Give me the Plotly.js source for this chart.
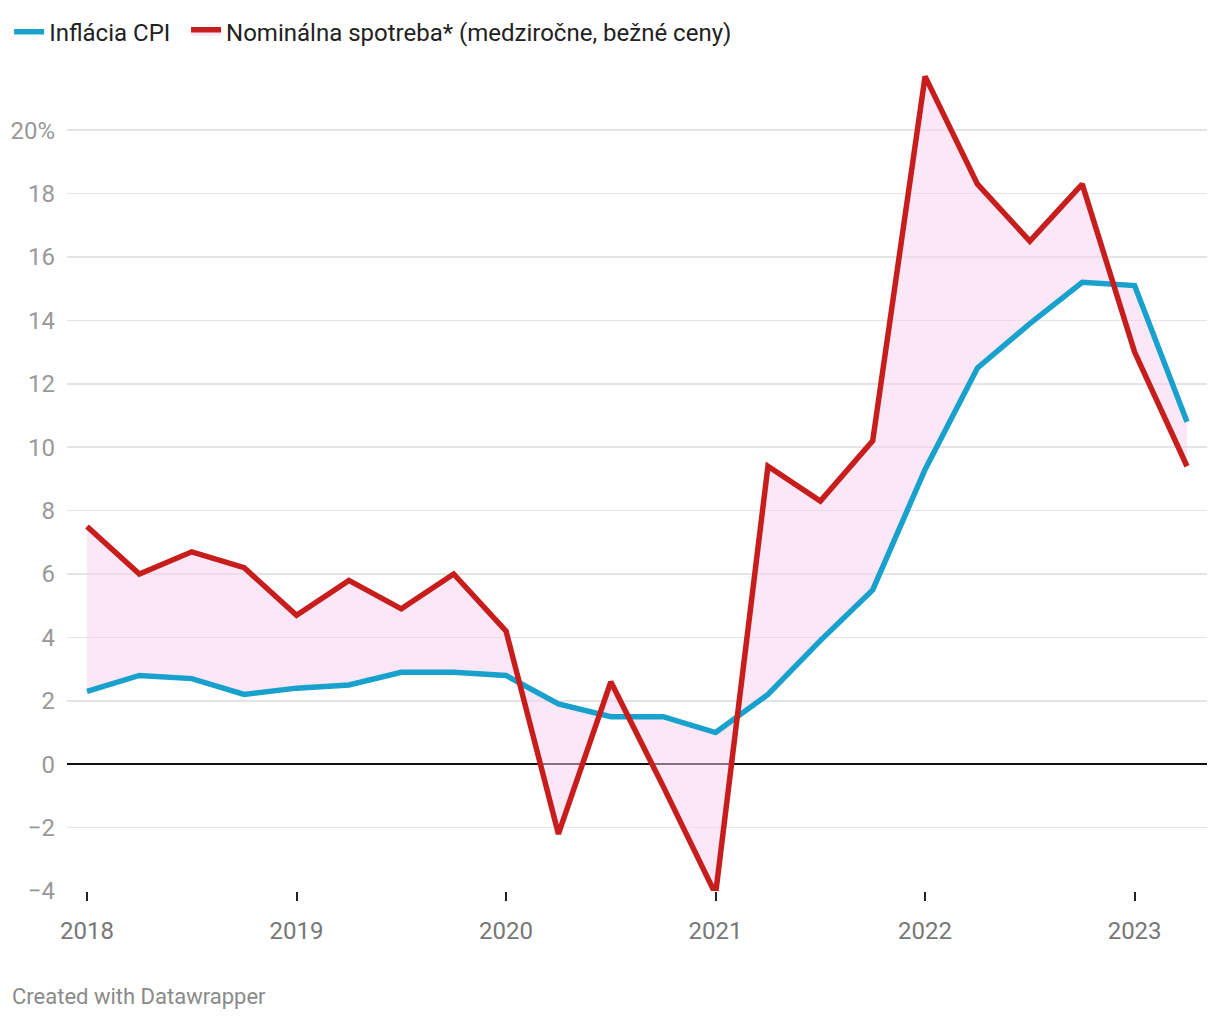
<!DOCTYPE html>
<html>
<head>
<meta charset="utf-8">
<script src="https://cdn.plot.ly/plotly-3.0.1.min.js"></script>
<style>
html,body{margin:0;padding:0;background:#fff;}
#chart{width:1220px;height:1020px;}
</style>
</head>
<body>
<div id="chart"></div>
<script>
const quarters = [2018.0,2018.25,2018.5,2018.75,2019.0,2019.25,2019.5,2019.75,2020.0,2020.25,2020.5,2020.75,2021.0,2021.25,2021.5,2021.75,2022.0,2022.25,2022.5,2022.75,2023.0,2023.25];
const cpi = [2.3,2.8,2.7,2.2,2.4,2.5,2.9,2.9,2.8,1.9,1.5,1.5,1.0,2.2,3.9,5.5,9.3,12.5,13.9,15.2,15.1,10.8];
const consumption = [7.5,6.0,6.7,6.2,4.7,5.8,4.9,6.0,4.2,-2.2,2.6,-0.7,-4.1,9.4,8.3,10.2,21.7,18.3,16.5,18.3,13.0,9.4];
const seriesNames = ["Inflácia CPI","Nominálna spotreba* (medziročne, bežné ceny)"];
const yTickVals = [-4,-2,0,2,4,6,8,10,12,14,16,18,20];
const yTickText = ["−4","−2","0","2","4","6","8","10","12","14","16","18","20%"];
const xTickVals = [2018,2019,2020,2021,2022,2023];
const xTickText = ["2018","2019","2020","2021","2022","2023"];

const traces = [
  {x: quarters, y: cpi, name: seriesNames[0], type:'scatter', mode:'lines', legend:'legend',
   line:{color:'#18a1cd', width:5.5}},
  {x: quarters, y: consumption, name: seriesNames[1], type:'scatter', mode:'lines', legend:'legend2',
   line:{color:'#c71e1d', width:5.5}, fill:'tonexty', fillcolor:'rgba(248,208,238,0.5)'}
];

const legendBase = {orientation:'h', xref:'container', y:0.9686, yref:'container', yanchor:'middle',
  font:{size:24, color:'#222'}, itemwidth:30, bgcolor:'rgba(0,0,0,0)'};

const layout = {
  width:1220, height:1020,
  paper_bgcolor:'#fff', plot_bgcolor:'#fff',
  font:{family:'Roboto, sans-serif', color:'#333'},
  margin:{l:67, r:13, t:70, b:129},
  showlegend:true,
  legend:Object.assign({}, legendBase, {x:0.0075}),
  legend2:Object.assign({}, legendBase, {x:0.1525}),
  xaxis:{range:[2017.9045,2023.3455], tickvals:xTickVals, ticktext:xTickText,
    showgrid:false, zeroline:false, showline:false,
    ticks:'outside', ticklen:9, tickwidth:2, tickcolor:'#222', ticklabelstandoff:9,
    tickfont:{size:24, color:'#777'}, fixedrange:true},
  yaxis:{range:[-4,21.9], tickvals:yTickVals, ticktext:yTickText,
    showgrid:true, gridcolor:'#e4e4e4', gridwidth:1.5,
    zeroline:true, zerolinecolor:'#111', zerolinewidth:2,
    showline:false, ticks:'', ticklabelstandoff:11,
    tickfont:{size:24, color:'#999'}, fixedrange:true},
  annotations:[
    {text:'Created with Datawrapper', xref:'paper', yref:'paper', x:-0.05, y:-0.1291,
     xanchor:'left', yanchor:'middle', showarrow:false, font:{size:22, color:'#8a8a8a'}}
  ]
};

Plotly.newPlot('chart', traces, layout, {displayModeBar:false, staticPlot:true});
</script>
</body>
</html>
